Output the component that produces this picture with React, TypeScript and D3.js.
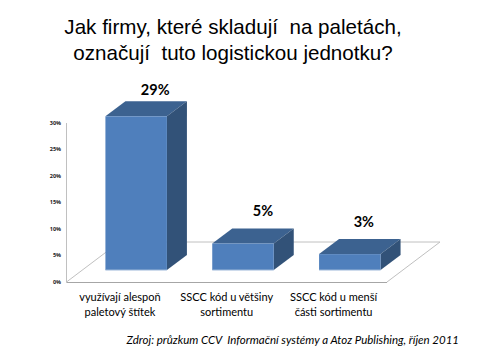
import React from "react";
import * as d3 from "d3";

const titleLines = ["Jak firmy, které skladují  na paletách,", "označují  tuto logistickou jednotku?"];
const categories = ["a", "b", "c"];
const categoryLines = [
  ["využívají alespoň", "paletový štítek"],
  ["SSCC kód u většiny", "sortimentu"],
  ["SSCC kód u menší", "části sortimentu"],
];
const values = [29, 5, 3];
const valueLabels = ["29%", "5%", "3%"];
const labelOffsetX = [19, 20, 14];
const labelOffsetY = [21, 28, 27];
const source = "Zdroj: průzkum CCV  Informační systémy a Atoz Publishing, říjen 2011";

const W = 480, H = 360;
const floorLeft = 66.5, floorRight = 387, floorY = 282;
const depthX = 53, depthY = 40;
const barDx = 20, barDy = 15;
const barBase = 270;

export default function App() {
  const x = d3.scaleBand<string>().domain(categories).range([floorLeft, floorRight]);
  const h = d3.scaleLinear().domain([0, 30]).range([0, 159]);
  const ticks = d3.range(0, 35, 5);
  const barW = 61.5;
  const poly = (pts: number[][]) => pts.map((p) => p.join(",")).join(" ");
  return (
    <svg width={W} height={H} style={{ position: "absolute", left: 0, top: 0, background: "#fff" }}>
      <g fontFamily="'Liberation Sans'" fontSize={20.6} textAnchor="middle" fill="#000">
        {titleLines.map((t, i) => (
          <text key={i} x={233} y={34 + i * 25.5} xmlSpace="preserve">{t}</text>
        ))}
      </g>
      <g stroke="#c0c0c0" fill="none">
        <line x1={floorLeft} y1={floorY - h(30)} x2={floorLeft} y2={floorY} />
        <line x1={floorLeft} y1={floorY} x2={floorLeft + depthX} y2={floorY - depthY} />
        <line x1={floorLeft + depthX} y1={floorY - depthY} x2={floorRight + depthX} y2={floorY - depthY} />
        <line x1={floorRight + depthX} y1={floorY - depthY} x2={floorRight} y2={floorY} />
      </g>
      <line x1={floorLeft} y1={floorY + 0.5} x2={floorRight} y2={floorY + 0.5} stroke="#a6a6a6" strokeWidth={1.2} />
      <g fontFamily="'Open Sans'" fontSize={5.5} fontWeight={700} textAnchor="end" fill="#222">
        {ticks.map((t) => (
          <text key={t} x={61} y={floorY - h(t) + 1.5}>{t}%</text>
        ))}
      </g>
      {categories.map((c, i) => {
        const x0 = x(c)! + x.bandwidth() / 2 - 14.5;
        const x1 = x0 + barW;
        const top = barBase - h(values[i]);
        return (
          <g key={c}>
            <polygon points={poly([[x0, top], [x1, top], [x1 + barDx, top - barDy], [x0 + barDx, top - barDy]])} fill="#3c6290" />
            <polygon points={poly([[x1, top], [x1 + barDx, top - barDy], [x1 + barDx, barBase - barDy], [x1, barBase]])} fill="#325278" />
            <rect x={x0} y={top} width={barW} height={h(values[i])} fill="#4f7fbc" />
            <line x1={x0} y1={barBase} x2={x1} y2={barBase} stroke="#9db8d9" />
            <text x={x0 + barW / 2 + labelOffsetX[i]} y={top - labelOffsetY[i]} fontFamily="Lato" fontWeight={700} fontSize={14.5} textAnchor="middle" fill="#000">{valueLabels[i]}</text>
            {categoryLines[i].map((l, j) => (
              <text key={j} x={x(c)! + x.bandwidth() / 2} y={301 + j * 15} fontFamily="Lato" fontSize={11} textAnchor="middle" fill="#000">{l}</text>
            ))}
          </g>
        );
      })}
      <text x={459} y={344} textAnchor="end" fontFamily="Lato" fontStyle="italic" fontSize={11.5} fill="#000" xmlSpace="preserve">{source}</text>
    </svg>
  );
}
